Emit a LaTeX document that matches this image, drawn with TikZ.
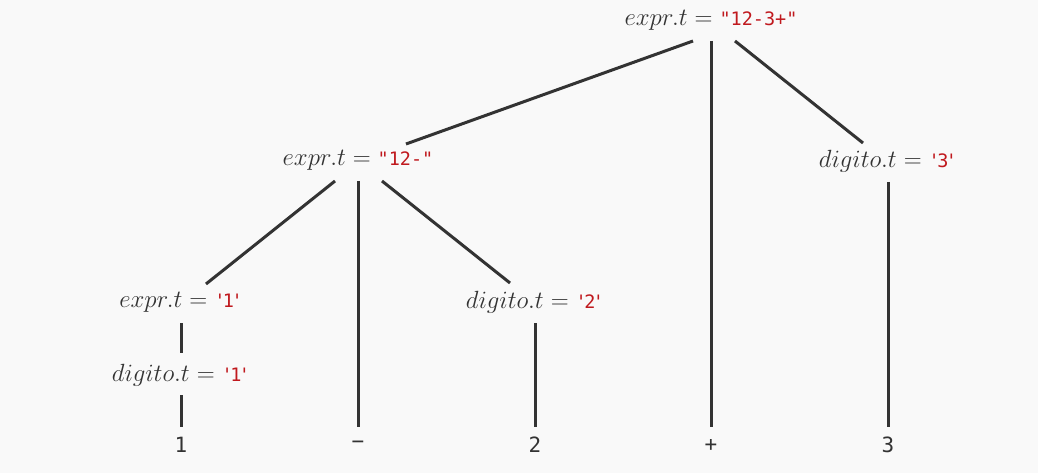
\documentclass[tikz,border=0pt]{standalone}
\usepackage{fontspec}
\newfontfamily\codefont{DejaVu Sans Mono}
\definecolor{bg}{HTML}{F9F9F9}
\definecolor{ink}{HTML}{333333}
\definecolor{strred}{HTML}{C0191E}
\newcommand{\dq}{\char"22\relax}
\newcommand{\sq}{\char"27\relax}
\newcommand{\lit}[1]{\mbox{\fontsize{18.5}{22}\codefont\color{strred}#1}}
\newcommand{\chr}[1]{\lit{\sq\kern-2.5pt#1\kern-2.5pt\sq}}
\begin{document}
\begin{tikzpicture}[x=1pt,y=-1pt,
  lbl/.style={inner sep=0pt, text=ink, font=\fontsize{23}{28}\selectfont},
  leaf/.style={inner sep=0pt, text=ink, font=\fontsize{21}{25}\codefont},
  edge/.style={draw=ink, line width=3pt}]
\fill[bg] (0,0) rectangle (1038,473);
\useasboundingbox (0,0) rectangle (1038,473);

\node[lbl] (root) at (711,20) {$expr.t = \lit{\dq12-3+\dq}$};
\node[lbl] (e2) at (358,160) {$expr.t = \lit{\dq12-\dq}$};
\node[lbl] (d3) at (888,161) {$digito.t = \chr{3}$};
\node[lbl] (e1) at (181,302) {$expr.t = \chr{1}$};
\node[lbl] (d2) at (535,302) {$digito.t = \chr{2}$};
\node[lbl] (d1) at (181,375) {$digito.t = \chr{1}$};

\node[leaf] (l1) at (181,445) {1};
\node[leaf] (lm) at (358,445) {−};
\node[leaf] (l2) at (535,445) {2};
\node[leaf] (lp) at (711,445) {+};
\node[leaf] (l3) at (888,445) {3};

\draw[edge] ([shift={(-18,21)}]root.center) -- ([shift={(48,-16)}]e2.center);
\draw[edge] ([shift={(0,21)}]root.center) -- ([shift={(0,-18)}]lp.center);
\draw[edge] ([shift={(24,21)}]root.center) -- ([shift={(-25,-18)}]d3.center);
\draw[edge] ([shift={(-23,21)}]e2.center) -- ([shift={(25,-18)}]e1.center);
\draw[edge] ([shift={(0,21)}]e2.center) -- ([shift={(0,-18)}]lm.center);
\draw[edge] ([shift={(24,21)}]e2.center) -- ([shift={(-25,-19)}]d2.center);
\draw[edge] ([shift={(0,21)}]e1.center) -- ([shift={(0,-22)}]d1.center);
\draw[edge] ([shift={(0,20)}]d1.center) -- ([shift={(0,-18)}]l1.center);
\draw[edge] ([shift={(0,21)}]d2.center) -- ([shift={(0,-18)}]l2.center);
\draw[edge] ([shift={(0,21)}]d3.center) -- ([shift={(0,-18)}]l3.center);
\end{tikzpicture}
\end{document}
